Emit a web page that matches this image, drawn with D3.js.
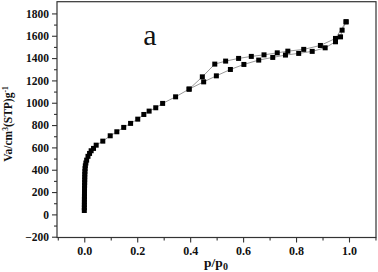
<!DOCTYPE html>
<html><head><meta charset="utf-8">
<script src="https://cdn.jsdelivr.net/npm/d3@7/dist/d3.min.js"></script>
<style>body{margin:0;background:#fff}svg{display:block}</style>
</head><body>
<script>
// Adsorption branch (p/p0, volume)
const adsP = [0.0002,0.0003,0.0004,0.0005,0.0006,0.0007,0.0008,0.0009,0.0010,0.0012,0.0014,0.0016,0.0018,0.0020,0.0025,0.0030,0.0040,0.0060,0.0090,0.014,0.020,0.026,0.035,0.045,
  0.070,0.098,0.123,0.149,0.175,0.202,0.225,0.245,0.270,0.296,0.345,0.396,0.451,0.499,0.552,0.603,0.659,0.712,0.760,0.810,0.861,0.910,0.949,0.968,0.974,0.989];
const adsV = [35,60,85,110,135,160,185,210,235,260,285,310,335,360,385,410,435,460,486,520,546,570,591,620,
  656,704,740,779,815,853,895,925,955,994,1053,1122,1187,1241,1298,1343,1382,1406,1427,1442,1460,1492,1546,1590,1650,1725];
// Desorption branch
const desP = [0.989,0.949,0.892,0.829,0.769,0.729,0.679,0.631,0.583,0.534,0.493,0.446,0.396];
const desV = [1725,1576,1513,1478,1462,1447,1429,1415,1397,1373,1346,1232,1122];
const yTicks = [-200,0,200,400,600,800,1000,1200,1400,1600,1800];
const xTicks = [0.0,0.2,0.4,0.6,0.8,1.0];

const W = 378, H = 272;
const svg = d3.select("body").append("svg").attr("width", W).attr("height", H);
const x = d3.scaleLinear().domain([-0.103, 1.102]).range([57, 376]);
const y = d3.scaleLinear().domain([-207, 1905]).range([237.5, 1.7]);

// frame
svg.append("rect").attr("x", 57).attr("y", 1.7).attr("width", 319).attr("height", 235.8)
  .attr("fill", "none").attr("stroke", "#333").attr("stroke-width", 1.2);

const fontF = "'Liberation Serif','Times New Roman',serif";

// y axis
const yAx = svg.append("g").attr("transform", "translate(57,0)")
  .call(d3.axisLeft(y).tickValues(yTicks).tickSize(5).tickPadding(3).tickFormat(d3.format("d")));
yAx.select(".domain").remove();
yAx.selectAll("line").attr("stroke", "#333").attr("stroke-width", 1.1);
yAx.selectAll("text").attr("font-family", fontF).attr("font-weight", "bold").attr("font-size", 11.5).attr("fill", "#111");
const yMinor = d3.range(-100, 1900, 200);
svg.append("g").attr("transform", "translate(57,0)")
  .call(d3.axisLeft(y).tickValues(yMinor).tickSize(3).tickFormat(""))
  .call(g => { g.select(".domain").remove(); g.selectAll("line").attr("stroke", "#333").attr("stroke-width", 1.1); });

// x axis
const xAx = svg.append("g").attr("transform", "translate(0,237.5)")
  .call(d3.axisBottom(x).tickValues(xTicks).tickSize(5).tickPadding(4).tickFormat(d3.format(".1f")));
xAx.select(".domain").remove();
xAx.selectAll("line").attr("stroke", "#333").attr("stroke-width", 1.1);
xAx.selectAll("text").attr("font-family", fontF).attr("font-weight", "bold").attr("font-size", 12).attr("fill", "#111");
const xMinor = [-0.1,0.1,0.3,0.5,0.7,0.9,1.1];
svg.append("g").attr("transform", "translate(0,237.5)")
  .call(d3.axisBottom(x).tickValues(xMinor).tickSize(3).tickFormat(""))
  .call(g => { g.select(".domain").remove(); g.selectAll("line").attr("stroke", "#333").attr("stroke-width", 1.1); });

// labels
const yl = svg.append("text").attr("transform", "translate(12,124) rotate(-90)")
  .attr("text-anchor", "middle").attr("font-family", fontF).attr("font-weight", "bold")
  .attr("font-size", 11.5).attr("fill", "#111");
yl.append("tspan").text("Va/cm");
yl.append("tspan").attr("dy", -4).attr("font-size", 7.5).text("3");
yl.append("tspan").attr("dy", 4).text("(STP)g");
yl.append("tspan").attr("dy", -4).attr("font-size", 7.5).text("-1");

const xl = svg.append("text").attr("x", 216).attr("y", 267).attr("text-anchor", "middle")
  .attr("font-family", fontF).attr("font-weight", "bold").attr("font-size", 13.5).attr("fill", "#111");
xl.append("tspan").text("p/p");
xl.append("tspan").attr("dy", 3).attr("font-size", 10).text("0");

svg.append("text").attr("x", 150).attr("y", 45).attr("text-anchor", "middle")
  .attr("font-family", fontF).attr("font-size", 30).attr("fill", "#111").text("a");

// lines
const ads = adsP.map((p, i) => [p, adsV[i]]);
const des = desP.map((p, i) => [p, desV[i]]);
const line = d3.line().x(d => x(d[0])).y(d => y(d[1]));
[ads, des].forEach(s => svg.append("path").attr("d", line(s)).attr("fill", "none")
  .attr("stroke", "#999").attr("stroke-width", 1));

// markers
const ms = 5;
[ads, des].forEach(s => svg.append("g").selectAll("rect").data(s).join("rect")
  .attr("x", d => x(d[0]) - ms / 2).attr("y", d => y(d[1]) - ms / 2)
  .attr("width", ms).attr("height", ms).attr("fill", "#000"));
</script>
</body></html>
